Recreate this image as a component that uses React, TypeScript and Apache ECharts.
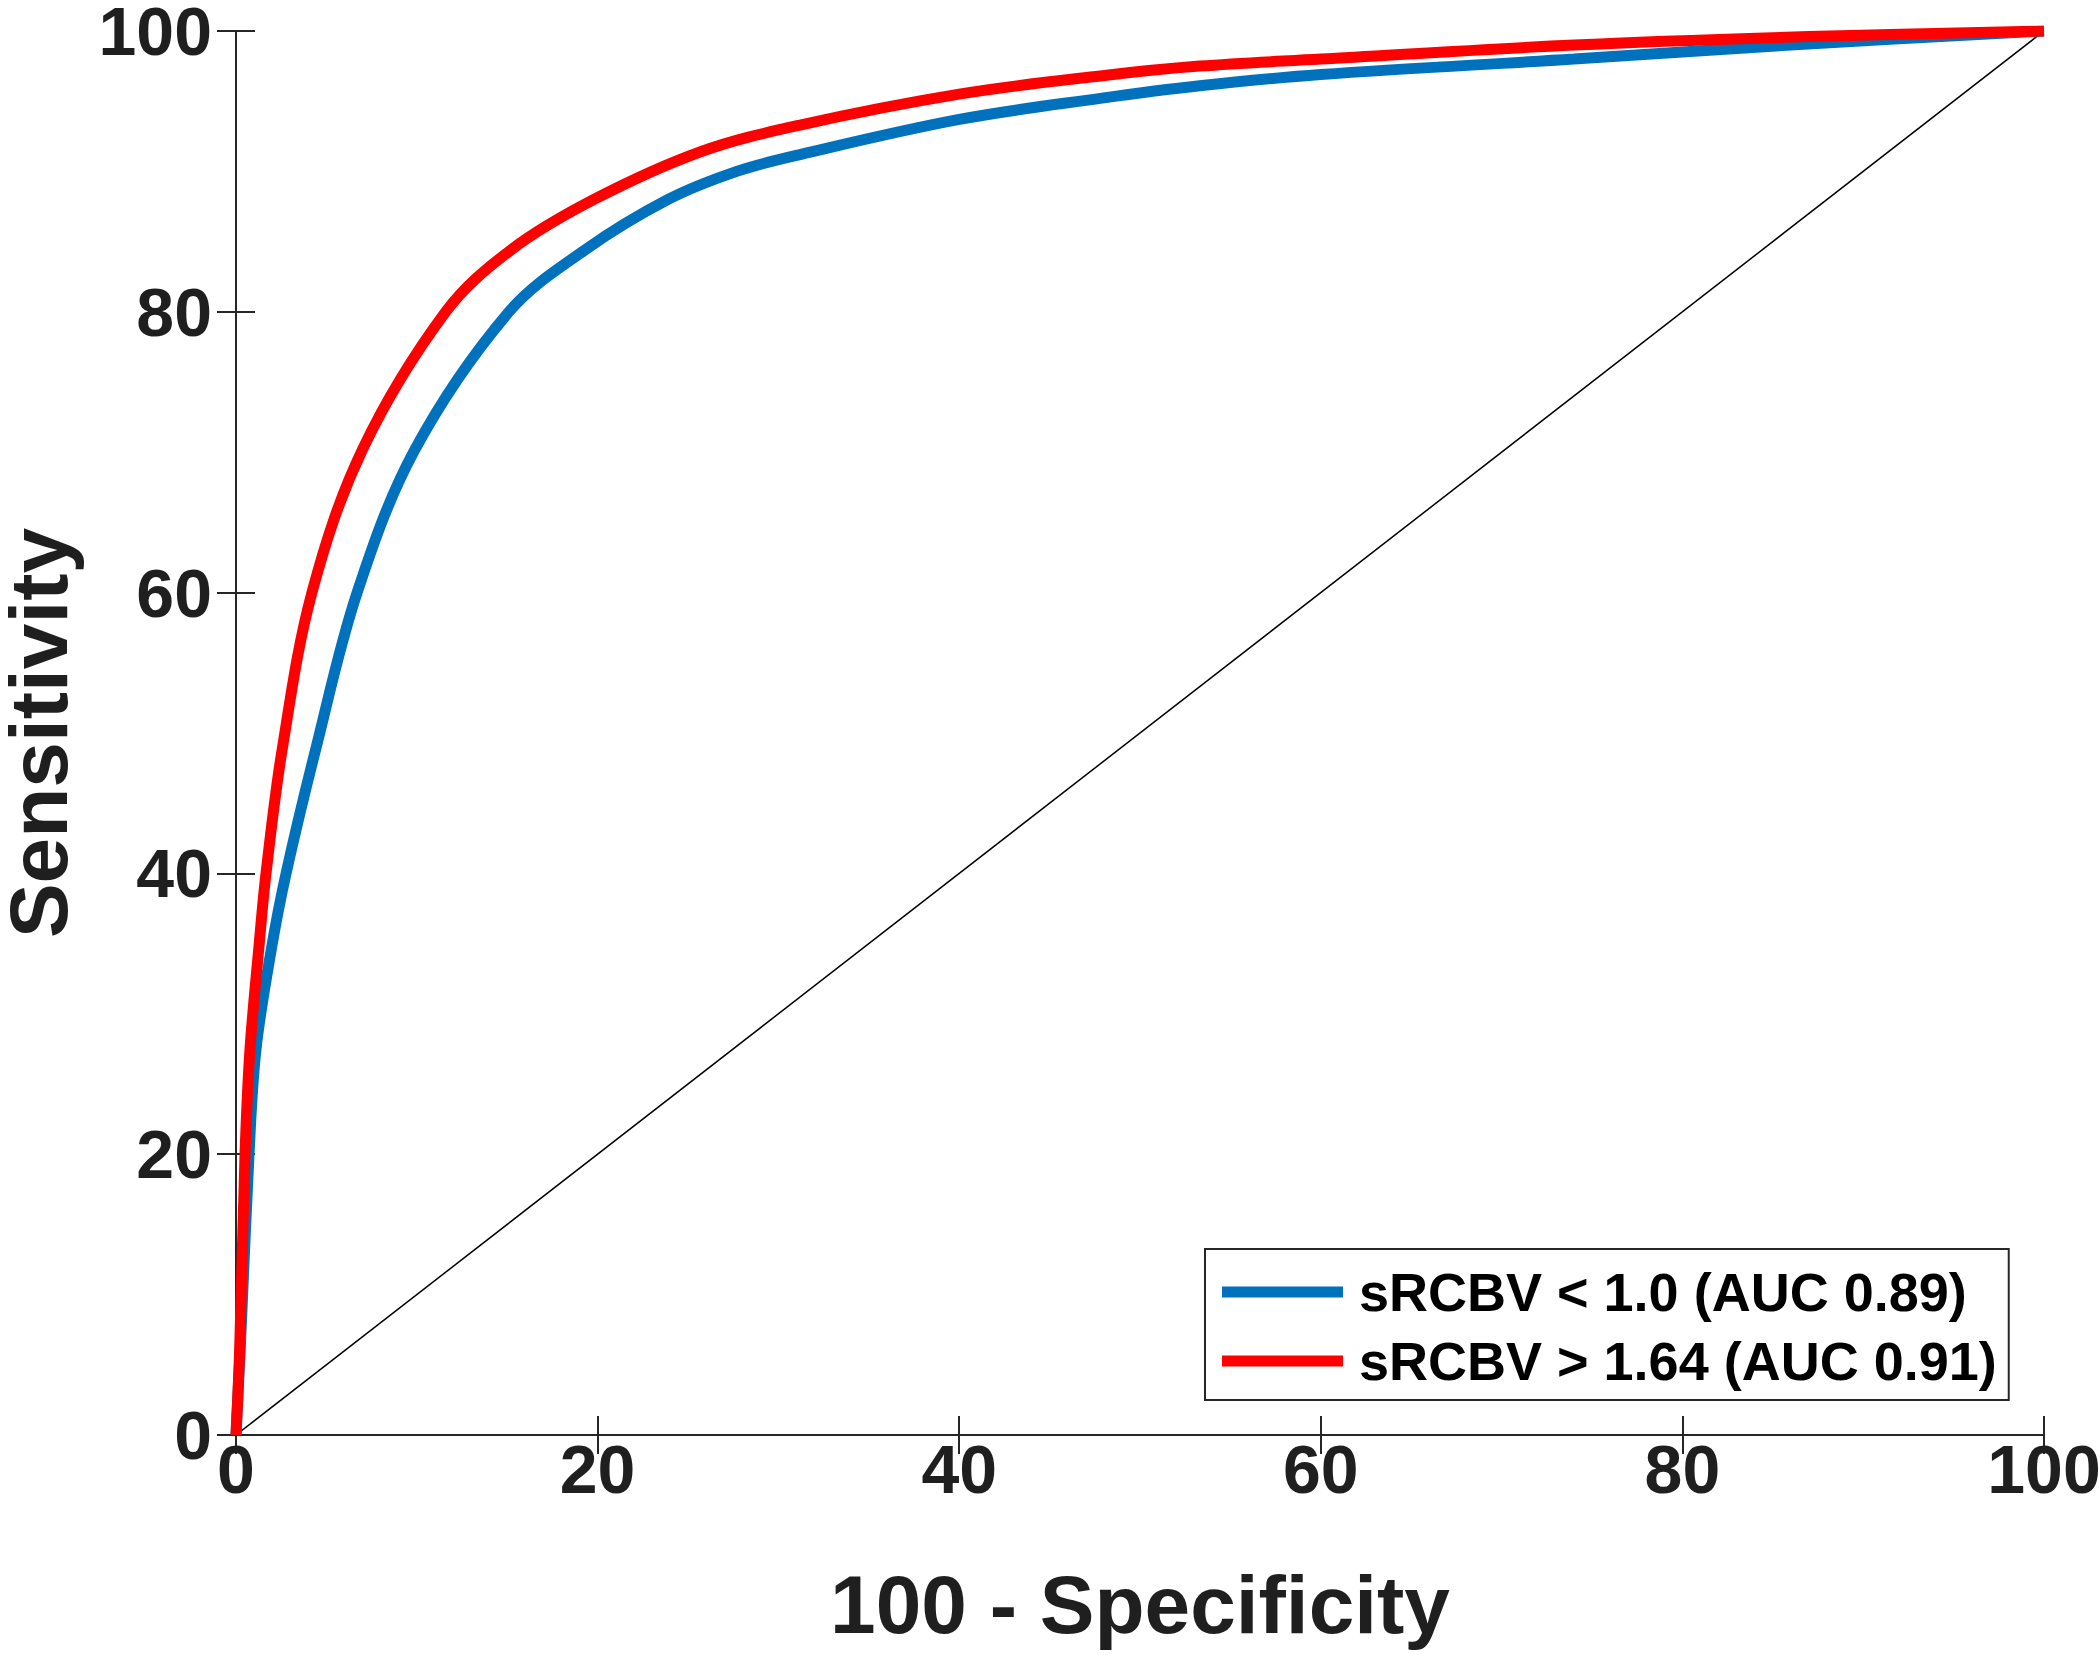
import React, { useEffect, useRef } from "react";
import * as echarts from "echarts";

const blueX = [0, 0.3, 0.72, 1.1, 1.94, 2.77, 4.4, 6.7, 9.9, 15.1, 19.3, 23.9, 27.7, 31.2, 40, 47.8, 53.3, 60, 74, 86, 100];
const blueY = [0, 8, 20, 27.4, 34.5, 40, 48.8, 60, 70.2, 80, 84.4, 88, 90, 91.2, 93.7, 95.2, 96.1, 96.9, 98, 99, 100];
const redX = [0, 0.2, 0.5, 0.77, 1.25, 1.66, 2.55, 4.2, 7.0, 11.6, 15.2, 19.8, 25.7, 31.2, 40, 47.8, 53.3, 60, 74, 87, 100];
const redY = [0, 6, 20, 27.4, 34.5, 40, 48.8, 60, 70.2, 80, 84.4, 88, 91.4, 93.3, 95.5, 96.8, 97.5, 98, 99, 99.6, 100];
const diagX = [0, 100];
const diagY = [0, 100];
const blueName = "sRCBV < 1.0 (AUC 0.89)";
const redName = "sRCBV > 1.64 (AUC 0.91)";

const FONT = "'Liberation Sans', Arial, Helvetica, sans-serif";
const INK = "#262626";
const TEXT = "#1f1f1f";

const zip = (xs: number[], ys: number[]) => xs.map((x, i) => [x, ys[i]]);

export default function App() {
  const ref = useRef<HTMLDivElement>(null);
  useEffect(() => {
    if (!ref.current) return;
    const chart = echarts.init(ref.current, null, { renderer: "svg" });
    const axisCommon = {
      type: "value",
      min: 0,
      max: 100,
      interval: 20,
      splitLine: { show: false },
      axisLine: { show: true, lineStyle: { color: INK, width: 2 } },
      axisTick: { show: true, inside: true, length: 19, lineStyle: { color: INK, width: 2 } },
    };
    chart.setOption({
      animation: false,
      backgroundColor: "#ffffff",
      grid: {
        left: 236,
        right: 55,
        top: 31,
        bottom: 220,
        containLabel: false,
        outerBoundsMode: "none",
      },
      xAxis: [
        {
          ...axisCommon,
          position: "bottom",
          name: "100 - Specificity",
          nameLocation: "middle",
          nameGap: 128,
          nameTextStyle: { fontFamily: FONT, fontWeight: "bold", fontSize: 82, color: TEXT },
          axisLabel: { fontFamily: FONT, fontWeight: "bold", fontSize: 68, color: TEXT, margin: 0 },
        },
        {
          ...axisCommon,
          position: "top",
          axisLabel: { show: false },
        },
      ],
      yAxis: [
        {
          ...axisCommon,
          position: "left",
          name: "Sensitivity",
          nameLocation: "middle",
          nameGap: 160,
          nameTextStyle: { fontFamily: FONT, fontWeight: "bold", fontSize: 82, lineHeight: 76, color: TEXT },
          axisLabel: {
            fontFamily: FONT,
            fontWeight: "bold",
            fontSize: 68,
            lineHeight: 52,
            color: TEXT,
            margin: 24,
          },
        },
        {
          ...axisCommon,
          position: "right",
          axisLabel: { show: false },
        },
      ],
      legend: {
        show: true,
        orient: "vertical",
        left: 1205,
        top: 1249,
        padding: [16, 12, 12, 17],
        itemGap: 15,
        itemWidth: 121,
        itemHeight: 11,
        icon: "rect",
        borderColor: INK,
        borderWidth: 2,
        borderRadius: 0,
        backgroundColor: "#ffffff",
        data: [blueName, redName],
        textStyle: {
          fontFamily: FONT,
          fontWeight: "bold",
          fontSize: 54,
          lineHeight: 54,
          color: "#000000",
          padding: [0, 0, 0, 11],
        },
      },
      series: [
        {
          name: "diag",
          type: "line",
          data: zip(diagX, diagY),
          showSymbol: false,
          symbol: "none",
          lineStyle: { color: "#000000", width: 1.5 },
          silent: true,
          z: 1,
        },
        {
          name: blueName,
          type: "line",
          data: zip(blueX, blueY),
          smooth: 0.35,
          symbol: "none",
          color: "#0072BD",
          lineStyle: { color: "#0072BD", width: 11 },
          z: 2,
        },
        {
          name: redName,
          type: "line",
          data: zip(redX, redY),
          smooth: 0.35,
          symbol: "none",
          color: "#FF0000",
          lineStyle: { color: "#FF0000", width: 11 },
          z: 3,
        },
      ],
    });
    return () => chart.dispose();
  }, []);
  return (
    <div
      ref={ref}
      style={{ position: "absolute", left: 0, top: 0, width: 2099, height: 1655, background: "#ffffff" }}
    />
  );
}
